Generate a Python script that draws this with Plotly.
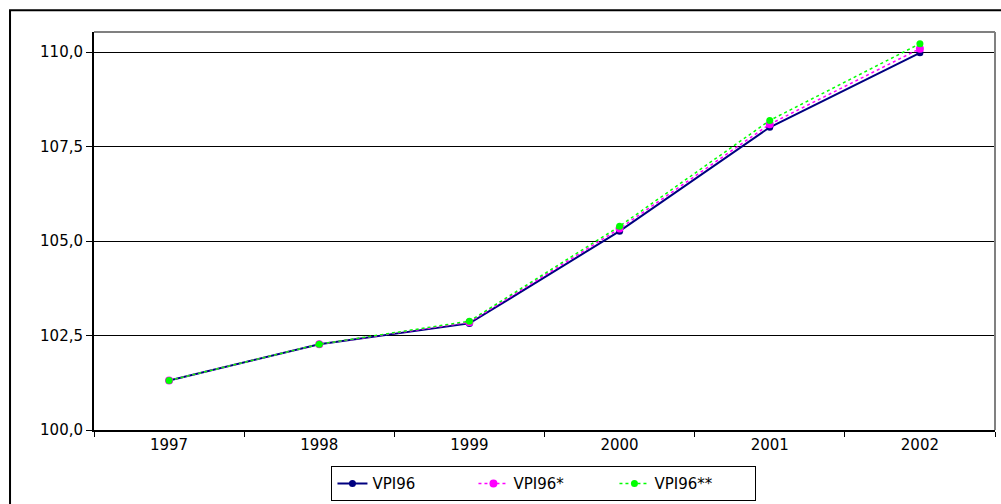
import plotly.graph_objects as go

years = ["1997", "1998", "1999", "2000", "2001", "2002"]
vpi96 = [101.31, 102.27, 102.82, 105.26, 108.01, 109.98]
vpi96_s = [101.31, 102.27, 102.85, 105.33, 108.09, 110.09]
vpi96_ss = [101.31, 102.27, 102.88, 105.39, 108.19, 110.22]
yticks = [100.0, 102.5, 105.0, 107.5, 110.0]
ytick_text = ["100,0", "102,5", "105,0", "107,5", "110,0"]

FONT = "DejaVu Sans"

fig = go.Figure()
fig.add_trace(go.Scatter(x=years, y=vpi96, name="VPI96", mode="lines+markers",
                         line=dict(color="#000080", width=2),
                         marker=dict(color="#000080", size=7, symbol="circle")))
fig.add_trace(go.Scatter(x=years, y=vpi96_s, name="VPI96*", mode="lines+markers",
                         line=dict(color="#FF00FF", width=1.5, dash="dot"),
                         marker=dict(color="#FF00FF", size=8, symbol="circle")))
fig.add_trace(go.Scatter(x=years, y=vpi96_ss, name="VPI96**", mode="lines+markers",
                         line=dict(color="#00FF00", width=1.5, dash="dot"),
                         marker=dict(color="#00FF00", size=7, symbol="circle")))

fig.update_layout(
    width=1001, height=504,
    margin=dict(l=94, r=6, t=32, b=74, autoexpand=False),
    paper_bgcolor="white", plot_bgcolor="white",
    font=dict(family=FONT, size=15, color="black"),
    showlegend=True,
    legend=dict(orientation="h", x=0.4994, xanchor="center", y=-0.179, yanchor="bottom",
                bordercolor="black", borderwidth=1, bgcolor="white",
                font=dict(family=FONT, size=15), entrywidth=96,
                entrywidthmode="pixels", tracegroupgap=0),
    xaxis=dict(type="category", range=[-0.5, 5.5], showline=True, linecolor="black",
               linewidth=2, ticks="outside", ticklen=5, tickcolor="black", tickwidth=1,
               tickson="boundaries", showgrid=False, zeroline=False,
               tickfont=dict(family=FONT, size=15)),
    yaxis=dict(range=[100, 110.53], tickvals=yticks, ticktext=ytick_text,
               showline=True, linecolor="black", linewidth=2, ticks="outside",
               ticklen=6, tickcolor="black", tickwidth=1, showgrid=True,
               gridcolor="black", gridwidth=1, zeroline=False,
               tickfont=dict(family=FONT, size=15)),
    shapes=[
        dict(type="line", xref="paper", yref="paper", x0=0, x1=1, y0=1, y1=1,
             line=dict(color="#808080", width=2)),
        dict(type="line", xref="paper", yref="paper", x0=1, x1=1, y0=0, y1=1,
             line=dict(color="#808080", width=2)),
        dict(type="rect", xref="paper", yref="paper", x0=-0.0932, x1=1.05,
             y0=-0.4, y1=1.0545, line=dict(color="black", width=2), layer="below"),
    ],
)

fig.write_html("out.html", config={"displayModeBar": False},
               post_script="document.body.style.margin='0';document.body.style.overflow='hidden';")
